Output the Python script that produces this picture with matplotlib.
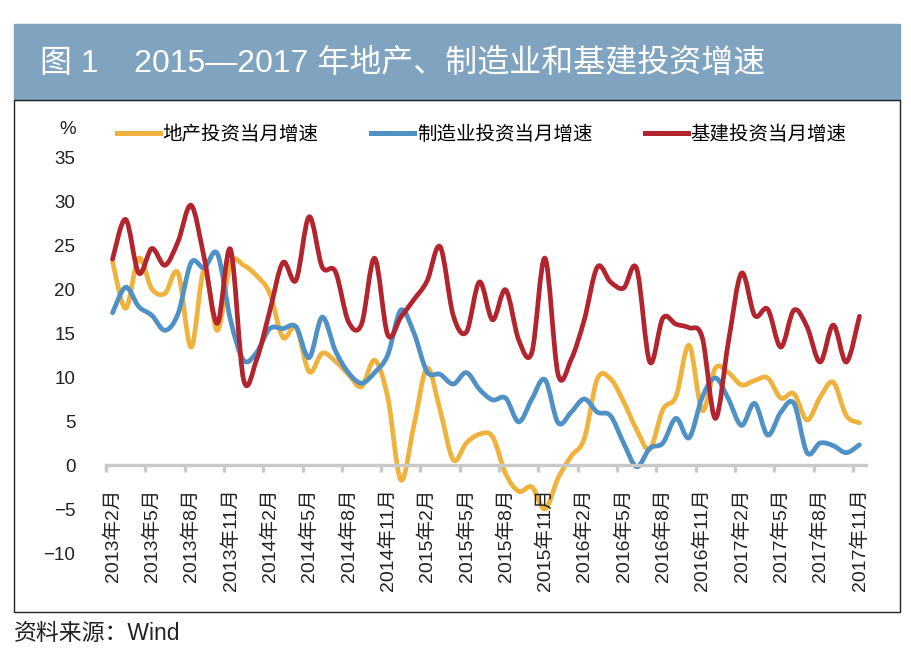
import numpy as np
import matplotlib
matplotlib.use("Agg")
import matplotlib.pyplot as plt
from matplotlib.path import Path
from matplotlib.patches import PathPatch, Rectangle
from matplotlib.lines import Line2D

plt.rcParams['font.family'] = ['Liberation Sans', 'Noto Sans CJK SC']
plt.rcParams['axes.unicode_minus'] = True

# monthly, 2013-02 .. 2017-11 (58 points)
realty = [23.1, 17.8, 23.5, 20.0, 19.5, 21.8, 13.4, 22.2, 15.3, 22.9,
          22.7, 21.5, 19.5, 14.5, 15.7, 10.6, 12.7, 11.8, 10.3, 8.9,
          11.9, 7.7, -1.7, 4.5, 11.0, 6.2, 0.6, 2.5, 3.5, 3.2,
          -1.0, -3.0, -2.5, -5.0, -1.5, 1.0, 3.0, 9.8, 9.8, 7.2,
          4.0, 1.8, 6.3, 7.8, 13.6, 6.2, 11.0, 10.5, 9.1, 9.6,
          9.9, 7.6, 8.1, 5.1, 7.7, 9.4, 5.6, 4.8]
manuf = [17.3, 20.2, 18.0, 17.0, 15.3, 17.2, 23.0, 22.4, 24.0, 16.5,
         11.9, 12.8, 15.5, 15.5, 15.7, 12.2, 16.8, 13.0, 10.5, 9.3,
         10.5, 12.5, 17.6, 15.0, 10.6, 10.3, 9.2, 10.5, 8.6, 7.4,
         7.6, 4.9, 7.5, 9.7, 4.8, 6.0, 7.5, 6.0, 5.6, 2.5,
         -0.2, 1.9, 2.5, 5.3, 3.1, 7.7, 9.9, 7.5, 4.5, 7.0,
         3.4, 6.0, 7.0, 1.4, 2.5, 2.2, 1.4, 2.3]
infra = [23.4, 27.9, 21.8, 24.6, 22.7, 25.4, 29.5, 23.5, 16.1, 24.5,
         9.7, 12.0, 17.5, 23.0, 21.0, 28.2, 22.5, 22.0, 16.3, 16.0,
         23.5, 14.8, 16.8, 18.8, 20.9, 24.8, 17.0, 15.1, 20.8, 16.5,
         19.9, 14.2, 12.8, 23.5, 10.3, 12.0, 16.5, 22.5, 20.8, 20.1,
         22.3, 11.7, 16.7, 16.0, 15.6, 14.5, 5.3, 14.0, 21.8, 17.0,
         17.7, 13.4, 17.6, 15.7, 11.7, 15.9, 11.7, 16.9]

tick_labels = ['2013年2月', '2013年5月', '2013年8月', '2013年11月',
               '2014年2月', '2014年5月', '2014年8月', '2014年11月',
               '2015年2月', '2015年5月', '2015年8月', '2015年11月',
               '2016年2月', '2016年5月', '2016年8月', '2016年11月',
               '2017年2月', '2017年5月', '2017年8月', '2017年11月']

names = ['地产投资当月增速', '制造业投资当月增速', '基建投资当月增速']
colors = ['#efb23d', '#4f91c5', '#b2252e']


def smooth_path(xs, ys):
    # excel-style smoothed line: cubic bezier through every point
    pts = np.column_stack([xs, ys]).astype(float)
    n = len(pts)
    verts = [pts[0]]
    codes = [Path.MOVETO]
    for i in range(n - 1):
        p0 = pts[max(i - 1, 0)]
        p1 = pts[i]
        p2 = pts[i + 1]
        p3 = pts[min(i + 2, n - 1)]
        verts += [p1 + (p2 - p0) / 6, p2 - (p3 - p1) / 6, p2]
        codes += [Path.CURVE4] * 3
    return Path(verts, codes)


W, H = 912, 664
fig = plt.figure(figsize=(W / 100, H / 100), dpi=100)


def fx(px):
    return px / W


def fy(py):
    return 1 - py / H


# title band and frame
fig.patches.append(Rectangle((fx(14), fy(100)), fx(900) - fx(14), fy(24) - fy(100),
                             transform=fig.transFigure, color='#80a4c0', zorder=0))
fig.patches.append(Rectangle((fx(14), fy(612)), fx(900) - fx(14), fy(100) - fy(612),
                             transform=fig.transFigure, fill=False, edgecolor='#222222',
                             lw=1.0, zorder=0))
fig.text(fx(40), fy(64), '图 1    2015—2017 年地产、制造业和基建投资增速',
         color='white', fontsize=23, va='center', ha='left')
fig.text(fx(14), fy(633), '资料来源：Wind', fontsize=16.5, va='center', ha='left', color='#222222')

ax = fig.add_axes([fx(106), fy(553), fx(866) - fx(106), fy(157) - fy(553)])
x = np.arange(len(infra))
for vals, c in zip([realty, manuf, infra], colors):
    ax.add_patch(PathPatch(smooth_path(x, vals), fill=False, edgecolor=c, lw=3.4,
                           capstyle='round', joinstyle='round', clip_on=False))

ax.set_xlim(-0.5, 57.5)
ax.set_ylim(-10, 35)
for s in ['top', 'right', 'left']:
    ax.spines[s].set_visible(False)
ax.spines['bottom'].set_position(('data', 0))
ax.spines['bottom'].set_color('#c9c9c9')
ax.spines['bottom'].set_linewidth(2.4)

ax.set_yticks(np.arange(-10, 36, 5))
ax.tick_params(axis='y', length=0, pad=22, labelsize=13.5, labelcolor='#222222')

ax.set_xticks(np.arange(-0.5, 57, 3))
ax.set_xticklabels([])
ax.set_xticks(np.arange(0, 58, 3), minor=True)
ax.set_xticklabels(tick_labels, minor=True, rotation=90)
ax.tick_params(axis='x', which='major', direction='out', length=5, width=2.4, color='#c9c9c9')
ax.tick_params(axis='x', which='minor', length=0, pad=17, labelsize=14, labelcolor='#222222')

fig.text(fx(68), fy(130), '%', fontsize=13.5, ha='center', va='center', color='#222222')

handles = [Line2D([], [], color=c, lw=3.6) for c in colors]
fig.legend(handles, names, loc='center left', bbox_to_anchor=(fx(117), fy(135)),
           ncol=3, frameon=False, fontsize=14, handlelength=2.2, handletextpad=0.15,
           columnspacing=2.7, borderpad=0, borderaxespad=0)

fig.savefig('out.png', dpi=100)
